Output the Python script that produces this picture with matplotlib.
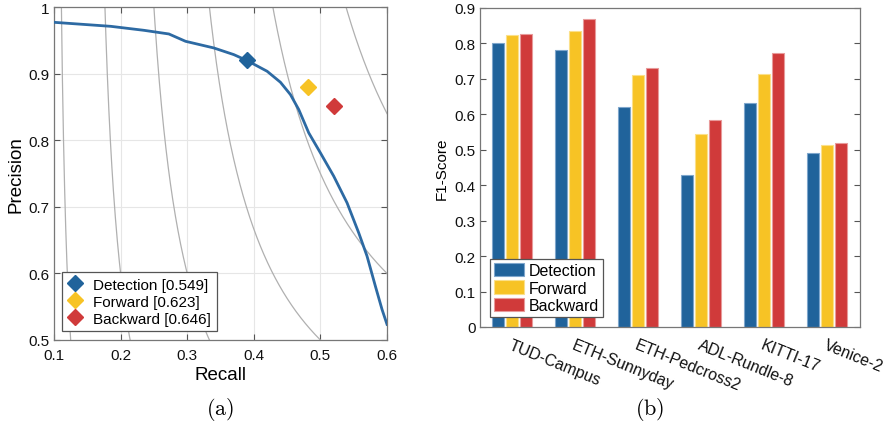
import numpy as np
import matplotlib
matplotlib.use("Agg")
import matplotlib.pyplot as plt

plt.rcParams['font.family'] = ['Liberation Sans', 'DejaVu Sans']
plt.rcParams['mathtext.fontset'] = 'cm'

# ---- data (a) ----
pr_recall = [0.100, 0.185, 0.235, 0.2725, 0.2975, 0.340, 0.370, 0.390, 0.420, 0.440,
             0.455, 0.4675, 0.4825, 0.500, 0.520, 0.540, 0.5575, 0.570, 0.5825, 0.5925, 0.600]
pr_precision = [0.977, 0.971, 0.965, 0.9595, 0.9485, 0.9385, 0.9285, 0.9195, 0.9035, 0.887,
                0.8685, 0.846, 0.811, 0.781, 0.746, 0.706, 0.661, 0.626, 0.581, 0.546, 0.5235]
iso_f1 = [0.1, 0.2, 0.3, 0.4, 0.5, 0.6, 0.7, 0.8, 0.9]
pt_names = ['Detection [0.549]', 'Forward [0.623]', 'Backward [0.646]']
pt_recall = [0.390, 0.4815, 0.5205]
pt_precision = [0.920, 0.880, 0.852]

# ---- data (b) ----
sequences = ['TUD-Campus', 'ETH-Sunnyday', 'ETH-Pedcross2', 'ADL-Rundle-8', 'KITTI-17', 'Venice-2']
series_names = ['Detection', 'Forward', 'Backward']
f1_detection = [0.800, 0.782, 0.620, 0.430, 0.633, 0.491]
f1_forward = [0.825, 0.834, 0.711, 0.544, 0.713, 0.513]
f1_backward = [0.827, 0.868, 0.730, 0.585, 0.774, 0.520]

blue = '#20639b'
yellow = '#f7c325'
red = '#d03a3a'
colors = [blue, yellow, red]
edge_colors = ['#7ea6cc', '#fbe08a', '#e89a9a']

fig = plt.figure(figsize=(8.87, 4.27), dpi=100)

# ----- panel (a) -----
ax1 = fig.add_axes([54/887, (427-341)/427, 333/887, 333/427])
for F in iso_f1:
    r = np.linspace(F/2 + 1e-4, 0.6, 600)
    p = F * r / (2 * r - F)
    m = (p <= 1.05) & (p > 0)
    ax1.plot(r[m], p[m], color='#b0b0b0', lw=0.9, zorder=1)
ax1.plot(pr_recall, pr_precision, color='#2d6aa3', lw=2.0, zorder=3)
for name, r, p, c in zip(pt_names, pt_recall, pt_precision, colors):
    ax1.plot([r], [p], linestyle='none', marker='D', markersize=8, color=c,
             label=name, zorder=4)
ax1.set_xlim(0.1, 0.6)
ax1.set_ylim(0.5, 1.0)
ax1.set_xticks([0.1, 0.2, 0.3, 0.4, 0.5, 0.6])
ax1.set_xticklabels(['0.1', '0.2', '0.3', '0.4', '0.5', '0.6'])
ax1.set_yticks([0.5, 0.6, 0.7, 0.8, 0.9, 1.0])
ax1.set_yticklabels(['0.5', '0.6', '0.7', '0.8', '0.9', '1'])
ax1.grid(True, color='#e6e6e6', lw=0.8, zorder=0)
ax1.set_axisbelow(True)
ax1.tick_params(direction='in', top=True, right=True, labelsize=11, length=4,
                color='#555555', labelcolor='#111111')
ax1.tick_params(axis='x', pad=6)
ax1.tick_params(axis='y', pad=3)
for s in ax1.spines.values():
    s.set_color('#777777')
    s.set_linewidth(0.9)
ax1.set_xlabel('Recall', fontsize=13.5, labelpad=3)
ax1.set_ylabel('Precision', fontsize=13.5, labelpad=3)
leg1 = ax1.legend(loc='lower left', bbox_to_anchor=(0.024, 0.027), borderaxespad=0,
                  fontsize=11, handlelength=1.0, handletextpad=0.7, labelspacing=0.2,
                  borderpad=0.35, fancybox=False, framealpha=1, edgecolor='#555555')
leg1.get_frame().set_linewidth(0.9)

# ----- panel (b) -----
ax2 = fig.add_axes([480/887, (427-328)/427, 380/887, 319/427])
x = np.arange(1, len(sequences) + 1)
w = 0.19
offs = [-0.22, 0.0, 0.22]
for vals, name, c, ec, o in zip([f1_detection, f1_forward, f1_backward], series_names,
                                colors, edge_colors, offs):
    ax2.bar(x + o, vals, width=w, color=c, edgecolor=ec, linewidth=0.8, label=name, zorder=2)
ax2.set_xlim(0.49, 6.52)
ax2.set_ylim(0, 0.9)
ax2.set_yticks(np.round(np.arange(0, 0.91, 0.1), 1))
ax2.set_yticklabels(['0', '0.1', '0.2', '0.3', '0.4', '0.5', '0.6', '0.7', '0.8', '0.9'])
ax2.set_xticks(x)
ax2.set_xticklabels(sequences, rotation=-22, ha='left', va='top', rotation_mode='anchor',
                    fontsize=11.5)
ax2.tick_params(axis='y', direction='in', right=True, labelsize=11, length=4,
                color='#555555', labelcolor='#111111', pad=3)
ax2.tick_params(axis='x', direction='in', top=False, length=0, pad=7, labelcolor='#111111')
for s in ax2.spines.values():
    s.set_color('#777777')
    s.set_linewidth(0.9)
ax2.set_ylabel('F1-Score', fontsize=11, labelpad=4)
leg2 = ax2.legend(loc='lower left', bbox_to_anchor=(0.026, 0.031), borderaxespad=0,
                  fontsize=11.5, handlelength=1.9, handleheight=0.9, handletextpad=0.3,
                  labelspacing=0.15, borderpad=0.25, fancybox=False, framealpha=1,
                  edgecolor='#555555')
leg2.get_frame().set_linewidth(0.9)

# captions
fig.text(220/887, 1 - 410/427, r'$\mathrm{(a)}$', ha='center', va='center', fontsize=16)
fig.text(650/887, 1 - 410/427, r'$\mathrm{(b)}$', ha='center', va='center', fontsize=16)

fig.savefig('out.png', dpi=100)
